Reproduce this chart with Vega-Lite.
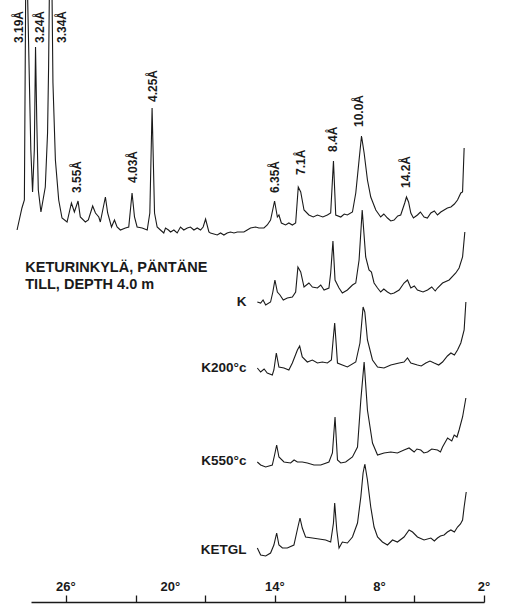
{
  "$schema": "https://vega.github.io/schema/vega-lite/v6.json",
  "width": 453,
  "height": 602,
  "autosize": {"type": "none"},
  "padding": {"left": 31, "top": 0, "right": 21, "bottom": 9},
  "background": "white",
  "config": {"view": {"stroke": null}, "font": "Liberation Sans"},
  "datasets": {
    "traces": [
      {"s":"top","t":28.80,"c":372},{"s":"top","t":28.52,"c":394},{"s":"top","t":28.38,"c":402},{"s":"top","t":28.28,"c":682},{"s":"top","t":28.19,"c":602},{"s":"top","t":28.01,"c":452},{"s":"top","t":27.91,"c":410},{"s":"top","t":27.81,"c":452},{"s":"top","t":27.74,"c":555},{"s":"top","t":27.67,"c":482},{"s":"top","t":27.58,"c":412},{"s":"top","t":27.43,"c":390},{"s":"top","t":27.18,"c":415},{"s":"top","t":27.05,"c":469},{"s":"top","t":26.99,"c":535},{"s":"top","t":26.95,"c":602},{"s":"top","t":26.87,"c":752},{"s":"top","t":26.79,"c":602},{"s":"top","t":26.74,"c":519},{"s":"top","t":26.60,"c":442},{"s":"top","t":26.41,"c":402},{"s":"top","t":26.22,"c":384},{"s":"top","t":25.93,"c":380},{"s":"top","t":25.68,"c":399},{"s":"top","t":25.51,"c":390},{"s":"top","t":25.30,"c":401},{"s":"top","t":25.17,"c":385},{"s":"top","t":24.88,"c":380},{"s":"top","t":24.71,"c":382},{"s":"top","t":24.46,"c":396},{"s":"top","t":24.30,"c":389},{"s":"top","t":24.11,"c":385},{"s":"top","t":24.02,"c":380},{"s":"top","t":23.73,"c":405},{"s":"top","t":23.60,"c":389},{"s":"top","t":23.38,"c":375},{"s":"top","t":23.21,"c":382},{"s":"top","t":23.06,"c":375},{"s":"top","t":22.87,"c":372},{"s":"top","t":22.58,"c":374},{"s":"top","t":22.39,"c":375},{"s":"top","t":22.20,"c":409},{"s":"top","t":22.06,"c":385},{"s":"top","t":21.91,"c":375},{"s":"top","t":21.62,"c":374},{"s":"top","t":21.33,"c":372},{"s":"top","t":21.18,"c":389},{"s":"top","t":21.05,"c":494},{"s":"top","t":20.91,"c":389},{"s":"top","t":20.76,"c":375},{"s":"top","t":20.57,"c":372},{"s":"top","t":20.38,"c":369},{"s":"top","t":20.28,"c":374},{"s":"top","t":20.11,"c":372},{"s":"top","t":19.99,"c":370},{"s":"top","t":19.80,"c":372},{"s":"top","t":19.61,"c":369},{"s":"top","t":19.42,"c":375},{"s":"top","t":19.23,"c":372},{"s":"top","t":19.03,"c":374},{"s":"top","t":18.85,"c":375},{"s":"top","t":18.65,"c":372},{"s":"top","t":18.46,"c":374},{"s":"top","t":18.27,"c":372},{"s":"top","t":18.12,"c":375},{"s":"top","t":17.98,"c":383},{"s":"top","t":17.79,"c":370},{"s":"top","t":17.70,"c":369},{"s":"top","t":17.31,"c":367},{"s":"top","t":17.12,"c":369},{"s":"top","t":16.93,"c":367},{"s":"top","t":16.74,"c":369},{"s":"top","t":16.55,"c":370},{"s":"top","t":16.35,"c":369},{"s":"top","t":16.16,"c":370},{"s":"top","t":15.78,"c":370},{"s":"top","t":15.59,"c":372},{"s":"top","t":15.40,"c":374},{"s":"top","t":15.11,"c":375},{"s":"top","t":14.92,"c":374},{"s":"top","t":14.63,"c":374},{"s":"top","t":14.44,"c":377},{"s":"top","t":14.25,"c":382},{"s":"top","t":14.02,"c":401},{"s":"top","t":13.86,"c":385},{"s":"top","t":13.77,"c":387},{"s":"top","t":13.63,"c":379},{"s":"top","t":13.39,"c":377},{"s":"top","t":13.20,"c":379},{"s":"top","t":13.00,"c":377},{"s":"top","t":12.81,"c":379},{"s":"top","t":12.66,"c":415},{"s":"top","t":12.52,"c":410},{"s":"top","t":12.33,"c":392},{"s":"top","t":12.05,"c":387},{"s":"top","t":11.80,"c":385},{"s":"top","t":11.56,"c":387},{"s":"top","t":11.25,"c":385},{"s":"top","t":10.99,"c":387},{"s":"top","t":10.80,"c":389},{"s":"top","t":10.64,"c":441},{"s":"top","t":10.51,"c":387},{"s":"top","t":10.22,"c":385},{"s":"top","t":10.02,"c":388},{"s":"top","t":9.84,"c":387},{"s":"top","t":9.55,"c":390},{"s":"top","t":9.36,"c":409},{"s":"top","t":9.17,"c":442},{"s":"top","t":9.03,"c":466},{"s":"top","t":8.88,"c":449},{"s":"top","t":8.69,"c":422},{"s":"top","t":8.50,"c":405},{"s":"top","t":8.21,"c":392},{"s":"top","t":7.93,"c":385},{"s":"top","t":7.75,"c":388},{"s":"top","t":7.54,"c":384},{"s":"top","t":7.35,"c":381},{"s":"top","t":7.16,"c":382},{"s":"top","t":6.95,"c":386},{"s":"top","t":6.78,"c":387},{"s":"top","t":6.55,"c":399},{"s":"top","t":6.45,"c":405},{"s":"top","t":6.33,"c":400},{"s":"top","t":6.20,"c":389},{"s":"top","t":6.05,"c":384},{"s":"top","t":5.82,"c":387},{"s":"top","t":5.65,"c":390},{"s":"top","t":5.44,"c":385},{"s":"top","t":5.25,"c":384},{"s":"top","t":5.05,"c":389},{"s":"top","t":4.85,"c":391},{"s":"top","t":4.67,"c":387},{"s":"top","t":4.48,"c":390},{"s":"top","t":4.29,"c":392},{"s":"top","t":4.10,"c":394},{"s":"top","t":3.90,"c":395},{"s":"top","t":3.70,"c":398},{"s":"top","t":3.52,"c":402},{"s":"top","t":3.33,"c":409},{"s":"top","t":3.23,"c":410},{"s":"top","t":3.14,"c":454},

      {"s":"K","t":15.01,"c":300},{"s":"K","t":14.82,"c":299},{"s":"K","t":14.68,"c":302},{"s":"K","t":14.53,"c":297},{"s":"K","t":14.25,"c":300},{"s":"K","t":14.12,"c":310},{"s":"K","t":14.00,"c":322},{"s":"K","t":13.86,"c":310},{"s":"K","t":13.71,"c":307},{"s":"K","t":13.52,"c":302},{"s":"K","t":13.29,"c":304},{"s":"K","t":13.00,"c":305},{"s":"K","t":12.81,"c":310},{"s":"K","t":12.68,"c":335},{"s":"K","t":12.52,"c":330},{"s":"K","t":12.33,"c":315},{"s":"K","t":12.05,"c":319},{"s":"K","t":11.85,"c":315},{"s":"K","t":11.56,"c":314},{"s":"K","t":11.37,"c":317},{"s":"K","t":11.18,"c":312},{"s":"K","t":10.90,"c":314},{"s":"K","t":10.80,"c":329},{"s":"K","t":10.67,"c":361},{"s":"K","t":10.55,"c":322},{"s":"K","t":10.32,"c":314},{"s":"K","t":10.13,"c":309},{"s":"K","t":9.84,"c":312},{"s":"K","t":9.55,"c":317},{"s":"K","t":9.36,"c":319},{"s":"K","t":9.17,"c":342},{"s":"K","t":8.99,"c":392},{"s":"K","t":8.79,"c":345},{"s":"K","t":8.60,"c":332},{"s":"K","t":8.46,"c":330},{"s":"K","t":8.31,"c":319},{"s":"K","t":8.11,"c":314},{"s":"K","t":7.93,"c":310},{"s":"K","t":7.75,"c":313},{"s":"K","t":7.54,"c":310},{"s":"K","t":7.35,"c":308},{"s":"K","t":7.16,"c":309},{"s":"K","t":6.87,"c":312},{"s":"K","t":6.59,"c":319},{"s":"K","t":6.39,"c":322},{"s":"K","t":6.20,"c":314},{"s":"K","t":6.00,"c":316},{"s":"K","t":5.82,"c":312},{"s":"K","t":5.50,"c":310},{"s":"K","t":5.24,"c":312},{"s":"K","t":5.00,"c":315},{"s":"K","t":4.80,"c":311},{"s":"K","t":4.67,"c":314},{"s":"K","t":4.38,"c":319},{"s":"K","t":4.00,"c":322},{"s":"K","t":3.62,"c":329},{"s":"K","t":3.43,"c":334},{"s":"K","t":3.23,"c":345},{"s":"K","t":3.10,"c":370},

      {"s":"K200","t":15.01,"c":234},{"s":"K200","t":14.82,"c":230},{"s":"K200","t":14.62,"c":233},{"s":"K200","t":14.44,"c":229},{"s":"K200","t":14.15,"c":227},{"s":"K200","t":14.06,"c":232},{"s":"K200","t":13.92,"c":249},{"s":"K200","t":13.77,"c":235},{"s":"K200","t":13.48,"c":234},{"s":"K200","t":13.20,"c":232},{"s":"K200","t":13.00,"c":239},{"s":"K200","t":12.71,"c":252},{"s":"K200","t":12.58,"c":256},{"s":"K200","t":12.43,"c":245},{"s":"K200","t":12.14,"c":240},{"s":"K200","t":11.85,"c":242},{"s":"K200","t":11.56,"c":239},{"s":"K200","t":11.28,"c":240},{"s":"K200","t":10.99,"c":239},{"s":"K200","t":10.76,"c":242},{"s":"K200","t":10.66,"c":262},{"s":"K200","t":10.57,"c":279},{"s":"K200","t":10.48,"c":257},{"s":"K200","t":10.41,"c":239},{"s":"K200","t":10.13,"c":237},{"s":"K200","t":9.84,"c":235},{"s":"K200","t":9.36,"c":240},{"s":"K200","t":9.12,"c":259},{"s":"K200","t":8.94,"c":295},{"s":"K200","t":8.84,"c":290},{"s":"K200","t":8.69,"c":262},{"s":"K200","t":8.40,"c":242},{"s":"K200","t":8.11,"c":235},{"s":"K200","t":7.74,"c":234},{"s":"K200","t":7.35,"c":237},{"s":"K200","t":6.87,"c":239},{"s":"K200","t":6.59,"c":240},{"s":"K200","t":6.39,"c":244},{"s":"K200","t":6.20,"c":239},{"s":"K200","t":5.82,"c":237},{"s":"K200","t":5.60,"c":236},{"s":"K200","t":5.34,"c":239},{"s":"K200","t":5.10,"c":241},{"s":"K200","t":4.86,"c":239},{"s":"K200","t":4.60,"c":237},{"s":"K200","t":4.38,"c":240},{"s":"K200","t":4.10,"c":246},{"s":"K200","t":3.90,"c":249},{"s":"K200","t":3.70,"c":247},{"s":"K200","t":3.52,"c":252},{"s":"K200","t":3.33,"c":259},{"s":"K200","t":3.14,"c":272},{"s":"K200","t":3.04,"c":300},

      {"s":"K550","t":15.01,"c":140},{"s":"K550","t":14.82,"c":137},{"s":"K550","t":14.53,"c":135},{"s":"K550","t":14.15,"c":137},{"s":"K550","t":14.02,"c":147},{"s":"K550","t":13.90,"c":157},{"s":"K550","t":13.77,"c":145},{"s":"K550","t":13.48,"c":140},{"s":"K550","t":13.10,"c":139},{"s":"K550","t":12.90,"c":142},{"s":"K550","t":12.71,"c":140},{"s":"K550","t":12.43,"c":140},{"s":"K550","t":12.14,"c":139},{"s":"K550","t":11.76,"c":137},{"s":"K550","t":11.37,"c":137},{"s":"K550","t":10.90,"c":140},{"s":"K550","t":10.70,"c":149},{"s":"K550","t":10.55,"c":185},{"s":"K550","t":10.41,"c":142},{"s":"K550","t":10.22,"c":139},{"s":"K550","t":9.94,"c":140},{"s":"K550","t":9.55,"c":145},{"s":"K550","t":9.26,"c":155},{"s":"K550","t":9.07,"c":202},{"s":"K550","t":8.88,"c":240},{"s":"K550","t":8.69,"c":192},{"s":"K550","t":8.40,"c":159},{"s":"K550","t":8.11,"c":147},{"s":"K550","t":7.74,"c":149},{"s":"K550","t":7.35,"c":150},{"s":"K550","t":6.97,"c":149},{"s":"K550","t":6.59,"c":152},{"s":"K550","t":6.30,"c":154},{"s":"K550","t":6.01,"c":150},{"s":"K550","t":5.85,"c":153},{"s":"K550","t":5.63,"c":152},{"s":"K550","t":5.45,"c":149},{"s":"K550","t":5.24,"c":150},{"s":"K550","t":5.00,"c":153},{"s":"K550","t":4.67,"c":152},{"s":"K550","t":4.50,"c":150},{"s":"K550","t":4.38,"c":155},{"s":"K550","t":4.09,"c":164},{"s":"K550","t":3.85,"c":161},{"s":"K550","t":3.71,"c":167},{"s":"K550","t":3.55,"c":165},{"s":"K550","t":3.43,"c":172},{"s":"K550","t":3.23,"c":185},{"s":"K550","t":3.04,"c":204},

      {"s":"KETGL","t":15.01,"c":54},{"s":"KETGL","t":14.82,"c":47},{"s":"KETGL","t":14.53,"c":46},{"s":"KETGL","t":14.25,"c":49},{"s":"KETGL","t":14.06,"c":57},{"s":"KETGL","t":13.90,"c":69},{"s":"KETGL","t":13.77,"c":57},{"s":"KETGL","t":13.57,"c":54},{"s":"KETGL","t":13.29,"c":54},{"s":"KETGL","t":12.91,"c":57},{"s":"KETGL","t":12.68,"c":75},{"s":"KETGL","t":12.56,"c":84},{"s":"KETGL","t":12.43,"c":74},{"s":"KETGL","t":12.24,"c":65},{"s":"KETGL","t":11.85,"c":64},{"s":"KETGL","t":11.47,"c":63},{"s":"KETGL","t":11.09,"c":62},{"s":"KETGL","t":10.80,"c":60},{"s":"KETGL","t":10.64,"c":79},{"s":"KETGL","t":10.57,"c":99},{"s":"KETGL","t":10.45,"c":72},{"s":"KETGL","t":10.32,"c":54},{"s":"KETGL","t":10.13,"c":60},{"s":"KETGL","t":9.84,"c":59},{"s":"KETGL","t":9.55,"c":65},{"s":"KETGL","t":9.26,"c":79},{"s":"KETGL","t":9.07,"c":105},{"s":"KETGL","t":8.94,"c":129},{"s":"KETGL","t":8.84,"c":138},{"s":"KETGL","t":8.69,"c":122},{"s":"KETGL","t":8.50,"c":95},{"s":"KETGL","t":8.31,"c":75},{"s":"KETGL","t":8.11,"c":65},{"s":"KETGL","t":7.83,"c":60},{"s":"KETGL","t":7.54,"c":57},{"s":"KETGL","t":7.25,"c":62},{"s":"KETGL","t":6.97,"c":60},{"s":"KETGL","t":6.59,"c":65},{"s":"KETGL","t":6.30,"c":72},{"s":"KETGL","t":6.10,"c":70},{"s":"KETGL","t":5.82,"c":65},{"s":"KETGL","t":5.44,"c":62},{"s":"KETGL","t":5.05,"c":64},{"s":"KETGL","t":4.85,"c":61},{"s":"KETGL","t":4.67,"c":64},{"s":"KETGL","t":4.50,"c":66},{"s":"KETGL","t":4.29,"c":67},{"s":"KETGL","t":4.10,"c":70},{"s":"KETGL","t":3.90,"c":72},{"s":"KETGL","t":3.70,"c":70},{"s":"KETGL","t":3.52,"c":75},{"s":"KETGL","t":3.35,"c":78},{"s":"KETGL","t":3.23,"c":82},{"s":"KETGL","t":3.14,"c":95},{"s":"KETGL","t":3.02,"c":110}
    ],
    "peaks": [
      {"lab":"3.19Å","t":28.67,"c":559},
      {"lab":"3.24Å","t":27.49,"c":559},
      {"lab":"3.34Å","t":26.20,"c":559},
      {"lab":"3.55Å","t":25.34,"c":409},
      {"lab":"4.03Å","t":22.15,"c":419},
      {"lab":"4.25Å","t":21.00,"c":500},
      {"lab":"6.35Å","t":14.02,"c":409},
      {"lab":"7.1Å","t":12.49,"c":427},
      {"lab":"8.4Å","t":10.66,"c":450},
      {"lab":"10.0Å","t":9.19,"c":475},
      {"lab":"14.2Å","t":6.46,"c":414}
    ],
    "samples": [
      {"lab":"K","t":15.63,"c":300},
      {"lab":"K200°c","t":15.63,"c":234},
      {"lab":"K550°c","t":15.63,"c":141},
      {"lab":"KETGL","t":15.63,"c":52}
    ],
    "title": [
      {"lab":"KETURINKYLÄ, PÄNTÄNE","t":28.33,"c":334},
      {"lab":"TILL, DEPTH 4.0 m","t":28.33,"c":317}
    ],
    "ticklabels": [
      {"lab":"26°","t":26,"c":11},
      {"lab":"20°","t":20,"c":11},
      {"lab":"14°","t":14,"c":11},
      {"lab":"8°","t":8,"c":11},
      {"lab":"2°","t":2,"c":11}
    ]
  },
  "layer": [
    {
      "data": {"name": "traces"},
      "mark": {"type": "line", "color": "#1a1a1a", "strokeWidth": 1.1, "clip": false},
      "encoding": {
        "x": {
          "field": "t", "type": "quantitative",
          "scale": {"domain": [2, 28], "reverse": true, "nice": false, "zero": false},
          "axis": {
            "title": null,
            "values": [28, 26, 24, 22, 20, 18, 16, 14, 12, 10, 8, 6, 4, 2],
            "labels": false,
            "grid": false,
            "domainColor": "#1a1a1a", "domainWidth": 1.3,
            "tickColor": "#1a1a1a", "tickWidth": 1.3, "tickSize": -7
          }
        },
        "y": {"field": "c", "type": "quantitative", "scale": {"domain": [0, 602], "nice": false, "zero": false}, "axis": null},
        "detail": {"field": "s"}
      }
    },
    {
      "data": {"name": "ticklabels"},
      "mark": {"type": "text", "align": "center", "baseline": "alphabetic", "font": "Liberation Sans", "fontSize": 13, "fontWeight": "bold", "color": "#1a1a1a"},
      "encoding": {
        "x": {"field": "t", "type": "quantitative"},
        "y": {"field": "c", "type": "quantitative"},
        "text": {"field": "lab"}
      }
    },
    {
      "data": {"name": "peaks"},
      "mark": {"type": "text", "angle": 270, "align": "left", "baseline": "middle", "font": "Liberation Sans", "fontSize": 12, "fontWeight": "bold", "color": "#1a1a1a"},
      "encoding": {
        "x": {"field": "t", "type": "quantitative"},
        "y": {"field": "c", "type": "quantitative"},
        "text": {"field": "lab"}
      }
    },
    {
      "data": {"name": "samples"},
      "mark": {"type": "text", "align": "right", "baseline": "middle", "font": "Liberation Sans", "fontSize": 13.5, "fontWeight": "bold", "color": "#1a1a1a"},
      "encoding": {
        "x": {"field": "t", "type": "quantitative"},
        "y": {"field": "c", "type": "quantitative"},
        "text": {"field": "lab"}
      }
    },
    {
      "data": {"name": "title"},
      "mark": {"type": "text", "align": "left", "baseline": "middle", "font": "Liberation Sans", "fontSize": 14.5, "fontWeight": "bold", "color": "#1a1a1a"},
      "encoding": {
        "x": {"field": "t", "type": "quantitative"},
        "y": {"field": "c", "type": "quantitative"},
        "text": {"field": "lab"}
      }
    }
  ]
}
